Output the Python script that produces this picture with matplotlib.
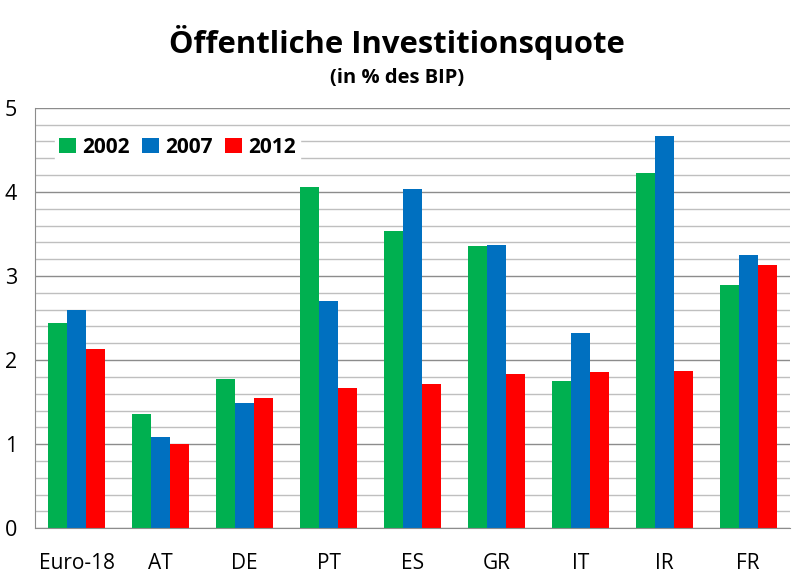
import matplotlib
matplotlib.use("Agg")
import matplotlib.pyplot as plt
import numpy as np

# values (public investment, % of GDP)
countries = ["Euro-18", "AT", "DE", "PT", "ES", "GR", "IT", "IR", "FR"]
years = ["2002", "2007", "2012"]
v2002 = [2.44, 1.36, 1.77, 4.06, 3.54, 3.36, 1.75, 4.23, 2.89]
v2007 = [2.60, 1.08, 1.49, 2.70, 4.03, 3.37, 2.32, 4.67, 3.25]
v2012 = [2.13, 1.00, 1.55, 1.67, 1.71, 1.83, 1.86, 1.87, 3.13]
colors = ["#00B050", "#0070C0", "#FF0000"]

plt.rcParams["font.family"] = ["Open Sans", "DejaVu Sans"]

fig = plt.figure(figsize=(7.94, 5.83), dpi=100)
ax = fig.add_axes([0.044, 0.094, 0.951, 0.721])

x = np.arange(len(countries))
w = 0.227
for i, (vals, yr) in enumerate(zip([v2002, v2007, v2012], years)):
    ax.bar(x + (i - 1) * w, vals, w, color=colors[i], label=yr, zorder=3)

ax.set_xlim(-0.5, len(countries) - 0.5)
ax.set_ylim(0, 5)
ax.set_yticks(np.arange(0, 6, 1))
ax.set_yticks(np.arange(0, 5.01, 0.2), minor=True)
ax.grid(axis="y", which="major", color="#8C8C8C", linewidth=1.0, zorder=0)
ax.grid(axis="y", which="minor", color="#BFBFBF", linewidth=1.0, zorder=0)
ax.set_xticks(x)
ax.set_xticklabels(countries, fontsize=15)
ax.tick_params(axis="x", length=0, pad=18)
ax.tick_params(axis="y", which="both", length=0, pad=13, labelsize=15.5)
for s in ["top", "right"]:
    ax.spines[s].set_visible(False)
for s in ["left", "bottom"]:
    ax.spines[s].set_color("#8C8C8C")
    ax.spines[s].set_zorder(4)

leg = ax.legend(loc="upper left", ncol=3, frameon=True, fancybox=False,
                prop={"size": 15, "weight": "bold"}, handlelength=0.8,
                handleheight=0.8, handletextpad=0.3, columnspacing=0.6,
                borderpad=0.2, bbox_to_anchor=(0.013, 0.966))
leg.get_frame().set_edgecolor("white")
leg.get_frame().set_alpha(1)

fig.text(0.5, 0.927, "Öffentliche Investitionsquote", ha="center", va="center",
         fontsize=22.3, fontweight="bold")
fig.text(0.5, 0.866, "(in % des BIP)", ha="center", va="center",
         fontsize=14.5, fontweight="bold")

fig.savefig("out.png", dpi=100)
